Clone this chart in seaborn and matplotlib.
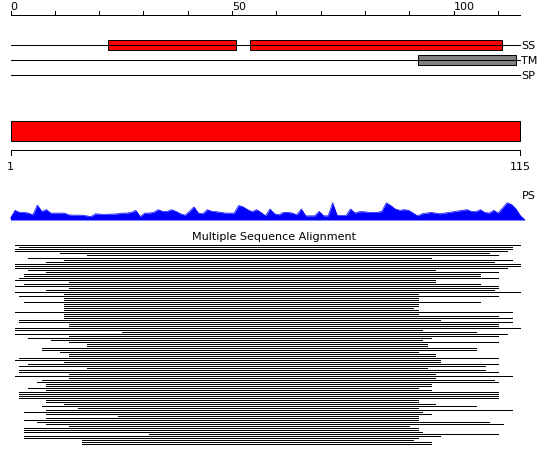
import numpy as np
import matplotlib
matplotlib.use("Agg")
import matplotlib.pyplot as plt
import seaborn as sns
from matplotlib.patches import Rectangle

# ---------------- data ----------------
SEQ_LEN = 115
RULER_TICKS = list(range(0, 111, 10))
RULER_LABELS = {0: "0", 50: "50", 100: "100"}
TRACK_NAMES = ["SS", "TM", "SP"]
SS_SEGMENTS = [(22, 51), (54, 111)]
TM_SEGMENTS = [(92, 114)]
SP_SEGMENTS = []
DOMAIN = (1, 115)
DOMAIN_LABELS = ["1", "115"]

PS_VALUES = [10, 28, 22, 22, 20, 15, 43, 25, 30, 20,
             20, 20, 20, 15, 14, 14, 14, 12, 10, 18,
             17, 16, 17, 17, 18, 20, 20, 22, 28, 10,
             20, 20, 22, 30, 25, 25, 30, 25, 18, 14,
             25, 38, 20, 18, 30, 25, 24, 22, 20, 20,
             20, 42, 38, 30, 24, 30, 22, 12, 32, 18,
             15, 22, 22, 20, 15, 32, 12, 12, 12, 25,
             12, 12, 50, 14, 13, 13, 32, 20, 24, 24,
             22, 22, 22, 25, 50, 42, 32, 28, 30, 28,
             20, 12, 18, 20, 22, 20, 18, 20, 22, 24,
             26, 28, 30, 25, 24, 30, 22, 20, 28, 20,
             35, 50, 45, 32, 12]

MSA_START = [2, 3, 2, 2, 12, 18, 5, 13, 9, 2,
             2, 2, 5, 9, 4, 4, 3, 2, 14, 4,
             2, 14, 9, 2, 13, 3, 13, 13, 4, 13,
             13, 13, 13, 2, 13, 13, 13, 3, 3, 14,
             14, 2, 2, 26, 2, 14, 5, 10, 14, 18,
             18, 8, 8, 12, 14, 14, 3, 2, 13, 5,
             3, 18, 3, 3, 14, 2, 14, 8, 7, 9,
             9, 5, 9, 3, 3, 3, 3, 9, 9, 13,
             8, 16, 9, 4, 9, 25, 9, 4, 7, 9,
             14, 4, 4, 4, 32, 4, 4, 17, 17, 17]

MSA_END = [115, 113, 113, 112, 108, 110, 95, 113, 109, 115,
           115, 112, 96, 110, 106, 106, 110, 96, 96, 106,
           110, 110, 109, 115, 92, 110, 92, 92, 106, 92,
           92, 91, 92, 113, 92, 110, 113, 97, 113, 110,
           110, 115, 93, 105, 112, 110, 95, 93, 110, 94,
           94, 105, 105, 92, 96, 96, 110, 97, 97, 110,
           107, 94, 107, 110, 96, 113, 96, 109, 110, 95,
           95, 92, 95, 110, 110, 110, 110, 92, 92, 96,
           105, 92, 113, 93, 95, 92, 92, 92, 108, 111,
           90, 92, 92, 93, 110, 97, 92, 91, 95, 95]

# ---------------- style / layout ----------------
sns.set_style("white")
plt.rcParams["font.family"] = ["DejaVu Sans"]
plt.rcParams["text.color"] = "black"
FS = 8
LW = 0.72
W, H = 550, 465

fig = plt.figure(figsize=(W / 100, H / 100), dpi=100)


def rect(top, bottom):
    return [0, 1 - bottom / H, 1, (bottom - top) / H]


# top scale: 0 -> 10.5 px, 4.43 px per residue
TOP_PPU = 4.43
top_xlim = (-10.5 / TOP_PPU, (W - 10.5) / TOP_PPU)
# bottom scale: 1 -> 10.5 px, 115 -> 520.5 px
BOT_PPU = 510 / 114
bot_xlim = (1 - 10.5 / BOT_PPU, 1 + (W - 10.5) / BOT_PPU)

ax_top = fig.add_axes([0, 0, 1, 1])
ax_top.set_xlim(*top_xlim)
ax_top.set_ylim(H, 0)
ax_top.axis("off")

# ruler
ax_top.hlines(15.5, 0, SEQ_LEN, color="black", lw=LW, antialiased=False)
ax_top.vlines(RULER_TICKS, 11, 15.5, color="black", lw=LW, antialiased=False)
for t, lab in RULER_LABELS.items():
    ax_top.text(t, 10.5, lab, ha="left", va="baseline", fontsize=FS, color="black")

# tracks
track_segments = [SS_SEGMENTS, TM_SEGMENTS, SP_SEGMENTS]
track_colors = ["#ff0000", "#808080", "#ffffff"]
for i, (name, segs, col) in enumerate(zip(TRACK_NAMES, track_segments, track_colors)):
    y = 45.5 + 15 * i
    ax_top.hlines(y, 0, SEQ_LEN, color="black", lw=LW, antialiased=False)
    for s, e in segs:
        ax_top.add_patch(Rectangle((s, y - 5), e - s, 10, facecolor=col,
                                   edgecolor="black", lw=LW))
    ax_top.text(SEQ_LEN + 0.25, y + 0.5, name, ha="left", va="center",
                fontsize=FS, color="black")

# bottom domain + ruler
ax_bot = fig.add_axes([0, 0, 1, 1])
ax_bot.set_xlim(*bot_xlim)
ax_bot.set_ylim(H, 0)
ax_bot.axis("off")
ax_bot.patch.set_alpha(0)
ax_bot.add_patch(Rectangle((DOMAIN[0], 120.5), DOMAIN[1] - DOMAIN[0], 20,
                           facecolor="#ff0000", edgecolor="black", lw=LW))
ax_bot.hlines(150.5, DOMAIN[0], DOMAIN[1], color="black", lw=LW, antialiased=False)
ax_bot.vlines(list(DOMAIN), 150.5, 155.5, color="black", lw=LW, antialiased=False)
for pos, lab in zip(DOMAIN, DOMAIN_LABELS):
    ax_bot.text(pos, 170, lab, ha="center", va="baseline", fontsize=FS, color="black")
ax_bot.text(SEQ_LEN + 0.2, 199, "PS", ha="left", va="baseline", fontsize=FS, color="black")

# PS profile
ax_ps = fig.add_axes(rect(200, 220.5))
ax_ps.set_xlim(*bot_xlim)
ax_ps.set_ylim(-1.5, 58)
ax_ps.axis("off")
ax_ps.patch.set_alpha(0)
ps_x = np.r_[1, np.arange(1, SEQ_LEN + 1), SEQ_LEN + 1]
ps_y = np.r_[0, PS_VALUES, 0]
ax_ps.fill_between(ps_x, 0, ps_y, color="#0000ff", lw=0)
sns.lineplot(x=ps_x, y=ps_y, ax=ax_ps, color="#0000ff", lw=0.5)
ax_ps.hlines(0, 1, SEQ_LEN + 4.7, color="#0000ff", lw=LW, antialiased=False)
ax_ps.set_xlabel("")
ax_ps.set_ylabel("")

# MSA
fig.text(274.5 / W, 1 - 236.5 / H, "Multiple Sequence Alignment",
         ha="center", va="center", fontsize=FS, color="black")
n = len(MSA_START)
ax_msa = fig.add_axes(rect(244.5, 244.5 + 2 * n))
ax_msa.set_xlim(*bot_xlim)
ax_msa.set_ylim(n - 0.5, -0.5)
ax_msa.axis("off")
ax_msa.patch.set_alpha(0)
ax_msa.hlines(np.arange(n), MSA_START, MSA_END, color="black", lw=LW,
              antialiased=False)

fig.savefig("out.png", dpi=100)
